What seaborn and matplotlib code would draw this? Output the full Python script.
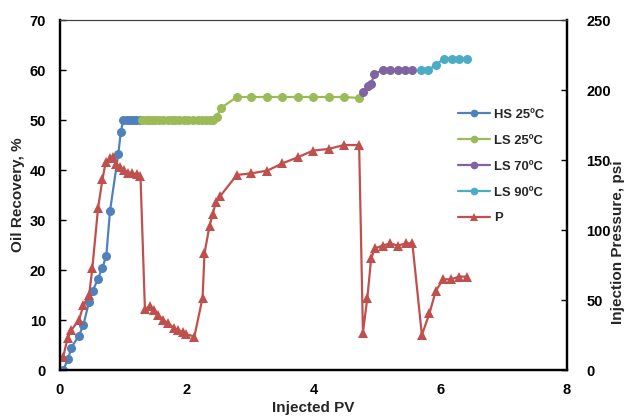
import matplotlib
matplotlib.use("Agg")
import matplotlib.pyplot as plt
import seaborn as sns
import pandas as pd

# ---- data ----
hs_pv = [0.05, 0.13, 0.18, 0.30, 0.37, 0.46, 0.52, 0.60, 0.67, 0.73, 0.79, 0.92, 0.96,
         1.00, 1.05, 1.10, 1.15, 1.20, 1.26]
hs_rec = [0.0, 2.3, 4.5, 6.9, 9.1, 13.7, 15.9, 18.3, 20.5, 22.8, 31.9, 43.2, 47.7,
          50.0, 50.0, 50.0, 50.0, 50.0, 50.0]

ls25_pv = [1.30, 1.35, 1.40, 1.45, 1.50, 1.56, 1.62, 1.70, 1.76, 1.82, 1.88, 1.95, 2.02,
           2.10, 2.17, 2.24, 2.30, 2.36, 2.42, 2.47, 2.54, 2.79, 3.02, 3.27, 3.51, 3.75,
           3.99, 4.24, 4.48, 4.72]
ls25_rec = [50.0, 50.0, 50.0, 50.0, 50.0, 50.0, 50.0, 50.0, 50.0, 50.0, 50.0, 50.0, 50.0,
            50.0, 50.0, 50.0, 50.0, 50.0, 50.0, 50.7, 52.4, 54.6, 54.6, 54.6, 54.6, 54.6,
            54.6, 54.6, 54.6, 54.4]

ls70_pv = [4.78, 4.86, 4.91, 4.96, 5.09, 5.21, 5.33, 5.45, 5.56]
ls70_rec = [55.6, 56.8, 57.2, 59.2, 60.0, 60.0, 60.0, 60.0, 60.0]

ls90_pv = [5.70, 5.81, 5.93, 6.06, 6.18, 6.30, 6.42]
ls90_rec = [60.0, 60.0, 61.0, 62.3, 62.3, 62.3, 62.3]

p_pv = [0.05, 0.12, 0.18, 0.30, 0.37, 0.46, 0.51, 0.60, 0.67, 0.72, 0.79, 0.84, 0.89,
        0.94, 1.01, 1.08, 1.14, 1.21, 1.27, 1.34, 1.42, 1.48, 1.55, 1.63, 1.71, 1.80,
        1.86, 1.94, 1.99, 2.12, 2.25, 2.28, 2.36, 2.41, 2.46, 2.53, 2.79, 3.02, 3.27,
        3.51, 3.75, 3.99, 4.24, 4.48, 4.72, 4.78, 4.85, 4.91, 4.97, 5.09, 5.21, 5.33,
        5.46, 5.56, 5.71, 5.83, 5.93, 6.05, 6.17, 6.30, 6.42]
p_psi = [9.5, 22.6, 28.6, 35.7, 46.4, 53.6, 72.6, 115.5, 136.2, 148.3, 151.2, 152.4, 146.9,
         145.2, 142.9, 141.0, 140.5, 140.0, 138.8, 43.3, 45.7, 42.9, 39.3, 35.7, 33.3, 29.8,
         28.6, 26.9, 25.7, 23.8, 51.7, 83.3, 103.1, 111.4, 120.0, 124.3, 139.3, 140.5, 142.4,
         147.6, 151.9, 156.7, 157.9, 160.7, 160.7, 26.7, 51.7, 79.8, 86.9, 88.8, 90.5, 88.8,
         90.5, 90.5, 25.0, 40.5, 56.7, 64.8, 64.8, 66.7, 66.7]

labels = ["HS 25ºC", "LS 25ºC", "LS 70ºC", "LS 90ºC", "P"]
colors = ["#4F81BD", "#9BBB59", "#8064A2", "#4BACC6", "#C0504D"]

x_ticks = [0, 2, 4, 6, 8]
y_ticks = [0, 10, 20, 30, 40, 50, 60, 70]
y2_ticks = [0, 50, 100, 150, 200, 250]

# ---- style ----
sns.set_style("white")
plt.rcParams["font.family"] = ["Liberation Sans", "DejaVu Sans"]
plt.rcParams["font.weight"] = "bold"

fig = plt.figure(figsize=(6.27, 4.17), dpi=100)
ax = fig.add_axes([60 / 627, 1 - 370 / 417, 507 / 627, 350 / 417])
ax2 = ax.twinx()

rec_series = [(hs_pv, hs_rec), (ls25_pv, ls25_rec), (ls70_pv, ls70_rec), (ls90_pv, ls90_rec)]
for (xs, ys), lab, c in zip(rec_series, labels[:4], colors[:4]):
    df = pd.DataFrame({"pv": xs, "val": ys})
    sns.lineplot(data=df, x="pv", y="val", ax=ax, color=c, marker="o", markersize=6.5,
                 markeredgewidth=0, linewidth=1.6, sort=False, estimator=None,
                 label=lab, legend=False, zorder=3)
dfp = pd.DataFrame({"pv": p_pv, "val": p_psi})
sns.lineplot(data=dfp, x="pv", y="val", ax=ax2, color=colors[4], marker="^", markersize=7,
             markeredgewidth=0, linewidth=1.6, sort=False, estimator=None,
             label=labels[4], legend=False, zorder=2)

ax.set_xlim(0, 8)
ax.set_ylim(0, 70)
ax2.set_ylim(0, 250)
ax.set_xticks(x_ticks)
ax.set_yticks(y_ticks)
ax2.set_yticks(y2_ticks)

for a in (ax, ax2):
    for s in a.spines.values():
        s.set_color("black")
        s.set_linewidth(1.6)
    a.spines["top"].set_linewidth(0.8)
    a.spines["top"].set_color("#404040")
ax.tick_params(axis="both", direction="in", length=4, width=1, labelsize=10.5, colors="black")
ax.tick_params(axis="y", pad=10, right=False)
ax.tick_params(axis="x", pad=9, top=False)
ax2.tick_params(axis="y", direction="in", length=4, width=1, labelsize=10.5, pad=14, colors="black")
for t in ax.get_xticklabels() + ax.get_yticklabels() + ax2.get_yticklabels():
    t.set_fontweight("bold")

ax.set_xlabel("Injected PV", fontsize=11, fontweight="bold")
ax.set_ylabel("Oil Recovery, %", fontsize=11, fontweight="bold")
ax2.set_ylabel("Injection Pressure, psi", fontsize=11, fontweight="bold")
ax.xaxis.set_label_coords(0.5, -0.088)
ax.yaxis.set_label_coords(-0.070, 0.5)
ax2.yaxis.set_label_coords(1.086, 0.365)

h1, l1 = ax.get_legend_handles_labels()
h2, l2 = ax2.get_legend_handles_labels()
leg = ax2.legend(h1 + h2, l1 + l2, loc="upper left", bbox_to_anchor=(0.785, 0.746),
                 frameon=False, fontsize=9.4, handlelength=2.45, handletextpad=0.3,
                 labelspacing=1.05, borderaxespad=0, borderpad=0, markerscale=0.85)
for t in leg.get_texts():
    t.set_fontweight("bold")

fig.savefig("out.png", dpi=100)
